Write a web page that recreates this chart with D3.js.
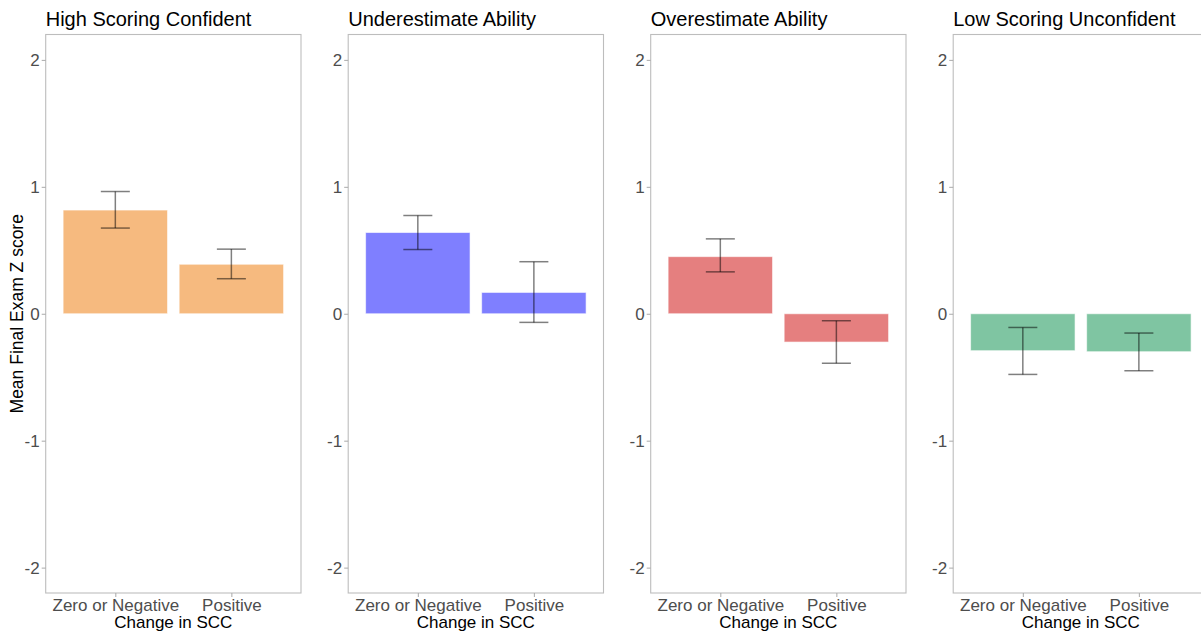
<!DOCTYPE html>
<html>
<head>
<meta charset="utf-8">
<script src="https://cdn.jsdelivr.net/npm/d3@7"></script>
<style>
	body { margin: 0; background: #fff; }
	svg { display: block; font-family: "Liberation Sans", Arial, sans-serif; }
</style>
</head>
<body>
<div id="chart"></div>
<script>
const width = 1201;
const height = 635;

// data
const panels = [
	"High Scoring Confident",
	"Underestimate Ability",
	"Overestimate Ability",
	"Low Scoring Unconfident",
];
const categories = ["Zero or Negative", "Positive"];
const means = [
	[0.817, 0.39],
	[0.64, 0.168],
	[0.45, -0.223],
	[-0.291, -0.299],
];
const lower = [
	[0.675, 0.276],
	[0.506, -0.068],
	[0.33, -0.39],
	[-0.478, -0.449],
];
const upper = [
	[0.963, 0.509],
	[0.774, 0.41],
	[0.59, -0.055],
	[-0.108, -0.152],
];
const fills = ["#EE7600", "#0000FF", "#CC0000", "#008B45"];
const yTicks = [-2, -1, 0, 1, 2];
const yDomain = [-2.2, 2.2];

// layout
const panel_margin = { top: 34.5, bottom: 593, left: 45.7 };
const panel_width = 255.3;
const panel_step = 302.5;

const svg = d3
	.select("#chart")
	.append("svg")
	.attr("width", width)
	.attr("height", height);

const y = d3
	.scaleLinear()
	.domain(yDomain)
	.range([panel_margin.bottom, panel_margin.top]);

const x = d3
	.scalePoint()
	.domain(categories)
	.range([0, panel_width])
	.padding(0.6);

const barW = x.step() * 0.9;
const capW = x.step() * 0.25;

panels.forEach((name, i) => {
	const g = svg
		.append("g")
		.attr("transform", `translate(${panel_margin.left + i * panel_step},0)`);

	const rows = categories.map((c, j) => ({
		cat: c,
		mean: means[i][j],
		lo: lower[i][j],
		hi: upper[i][j],
	}));

	// bars
	g.selectAll(".bar")
		.data(rows)
		.join("rect")
		.attr("class", "bar")
		.attr("x", (d) => x(d.cat) - barW / 2)
		.attr("width", barW)
		.attr("y", (d) => y(Math.max(0, d.mean)))
		.attr("height", (d) => Math.abs(y(d.mean) - y(0)))
		.attr("fill", fills[i])
		.attr("fill-opacity", 0.5)
		.attr("stroke", "#fff")
		.attr("stroke-opacity", 0.6)
		.attr("stroke-width", 1);

	// error bars
	const eb = g.selectAll(".err").data(rows).join("g").attr("class", "err")
		.attr("stroke", "#000")
		.attr("stroke-opacity", 0.5)
		.attr("stroke-width", 1.5);
	eb.append("line")
		.attr("x1", (d) => x(d.cat))
		.attr("x2", (d) => x(d.cat))
		.attr("y1", (d) => y(d.lo))
		.attr("y2", (d) => y(d.hi));
	eb.append("line")
		.attr("x1", (d) => x(d.cat) - capW / 2)
		.attr("x2", (d) => x(d.cat) + capW / 2)
		.attr("y1", (d) => y(d.hi))
		.attr("y2", (d) => y(d.hi));
	eb.append("line")
		.attr("x1", (d) => x(d.cat) - capW / 2)
		.attr("x2", (d) => x(d.cat) + capW / 2)
		.attr("y1", (d) => y(d.lo))
		.attr("y2", (d) => y(d.lo));

	// panel border
	g.append("rect")
		.attr("x", 0)
		.attr("y", panel_margin.top)
		.attr("width", panel_width)
		.attr("height", panel_margin.bottom - panel_margin.top)
		.attr("fill", "none")
		.attr("stroke", "#bdbdbd")
		.attr("stroke-width", 1.1);

	// y axis
	const ya = g.append("g")
		.call(d3.axisLeft(y).tickValues(yTicks).tickSize(4).tickPadding(2)
			.tickFormat((d) => d.toString()));
	ya.select(".domain").remove();
	ya.selectAll("line").attr("stroke", "#aaa");
	ya.selectAll("text")
		.attr("fill", "#4d4d4d")
		.attr("font-size", "17px")
		.attr("font-family", "Liberation Sans, Arial, sans-serif");

	// x axis
	const xa = g.append("g")
		.attr("transform", `translate(0,${panel_margin.bottom})`)
		.call(d3.axisBottom(x).tickSize(4).tickPadding(2));
	xa.select(".domain").remove();
	xa.selectAll("line").attr("stroke", "#aaa");
	xa.selectAll("text")
		.attr("fill", "#4d4d4d")
		.attr("font-size", "17px")
		.attr("font-family", "Liberation Sans, Arial, sans-serif");

	// x label
	g.append("text")
		.attr("x", panel_width / 2)
		.attr("y", 628)
		.attr("text-anchor", "middle")
		.attr("font-size", "17px")
		.attr("fill", "#000")
		.text("Change in SCC");

	// panel title
	g.append("text")
		.attr("x", 0)
		.attr("y", 25.5)
		.attr("font-size", "20px")
		.attr("fill", "#000")
		.text(name);
});

// y label (first panel only)
svg.append("text")
	.attr("transform", `translate(22.5,${(panel_margin.top + panel_margin.bottom) / 2}) rotate(-90)`)
	.attr("text-anchor", "middle")
	.attr("font-size", "17.5px")
	.attr("fill", "#000")
	.text("Mean Final Exam Z score");
</script>
</body>
</html>
